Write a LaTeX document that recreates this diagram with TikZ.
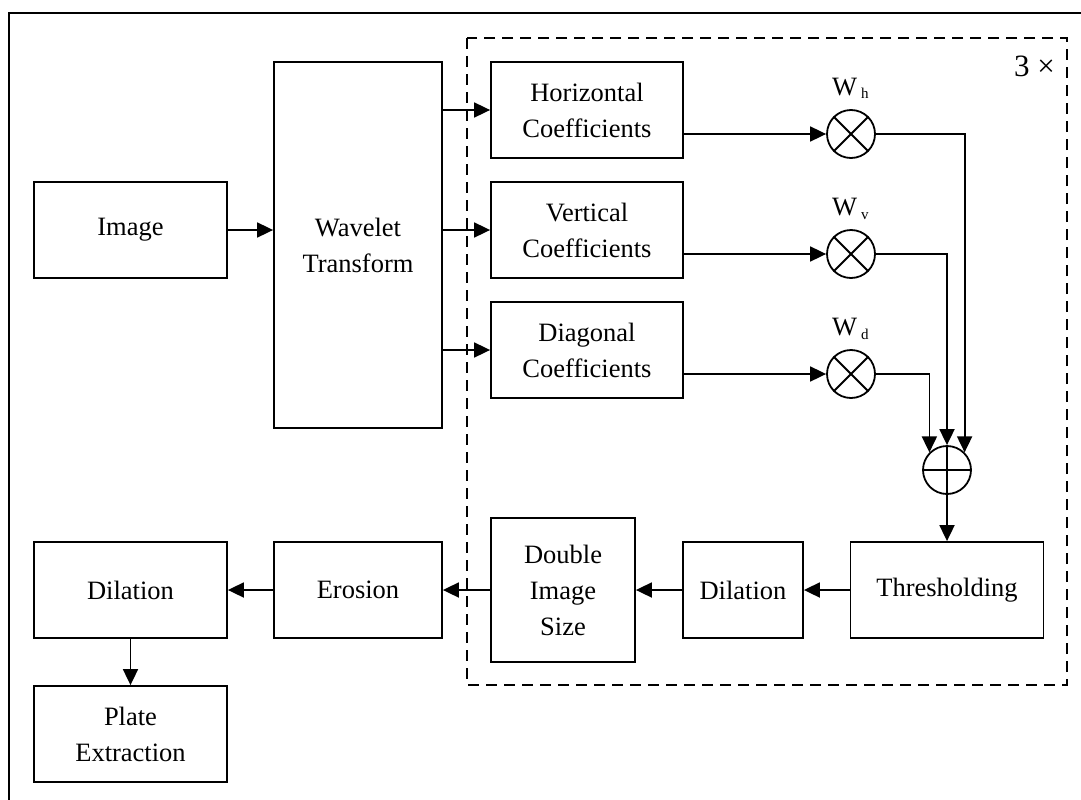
\documentclass[tikz,border=0pt]{standalone}
\usepackage{fontspec}
\setmainfont{Liberation Serif}
\usetikzlibrary{arrows.meta}
\begin{document}
\begin{tikzpicture}[x=1pt,y=-1pt,
  box/.style={draw, line width=1.8pt, inner sep=0pt, align=center, font=\fontsize{26.5}{36}\selectfont},
  arr/.style={line width=1.8pt, -{Triangle[length=16pt,width=15pt]}},
  ln/.style={line width=1.8pt},
  mul/.style={draw, circle, line width=1.8pt, minimum size=48pt, inner sep=0pt},
  lbl/.style={anchor=base west, inner sep=0pt, font=\fontsize{26.5}{30}\selectfont},
  sub/.style={anchor=base west, inner sep=0pt, font=\fontsize{15}{18}\selectfont},
]
\clip (0,0) rectangle (1081,800);
\draw[line width=2.4pt] (9,13) rectangle (1100,820);
\draw[line width=2.4pt, dash pattern=on 11pt off 7pt] (467,38) rectangle (1067,685);
\node[lbl, anchor=base east, font=\fontsize{31}{34}\selectfont] (rep) at (1055,77) {3 ×};

\node[box, minimum width=193pt, minimum height=96pt] (img) at (130.5,230) {Image};
\node[box, minimum width=168pt, minimum height=366pt] (wt) at (358,245) {Wavelet\\Transform};
\node[box, minimum width=192pt, minimum height=96pt] (hc) at (587,110) {Horizontal\\Coefficients};
\node[box, minimum width=192pt, minimum height=96pt] (vc) at (587,230) {Vertical\\Coefficients};
\node[box, minimum width=192pt, minimum height=96pt] (dc) at (587,350) {Diagonal\\Coefficients};

\node[mul] (wh) at (851,134) {};
\node[mul] (wv) at (851,254) {};
\node[mul] (wd) at (851,374) {};
\node[mul] (sum) at (947,470) {};
\foreach \c in {wh,wv,wd}{
  \draw[ln] (\c.north west) -- (\c.south east);
  \draw[ln] (\c.north east) -- (\c.south west);
}
\draw[ln] (sum.north) -- (sum.south);
\draw[ln] (sum.west) -- (sum.east);

\node[lbl] (lwh) at (832,95) {W};
\node[sub] (swh) at (861,99) {h};
\node[lbl] (lwv) at (832,215) {W};
\node[sub] (swv) at (861,219) {v};
\node[lbl] (lwd) at (832,335) {W};
\node[sub] (swd) at (861,339) {d};

\node[box, minimum width=193pt, minimum height=96pt] (th) at (947,590) {Thresholding};
\node[box, minimum width=120pt, minimum height=96pt] (di) at (743,590) {Dilation};
\node[box, minimum width=144pt, minimum height=144pt] (ds) at (563,590) {Double\\Image\\Size};
\node[box, minimum width=168pt, minimum height=96pt] (er) at (358,590) {Erosion};
\node[box, minimum width=193pt, minimum height=96pt] (do) at (130.5,590) {Dilation};
\node[box, minimum width=193pt, minimum height=96pt] (pe) at (130.5,734) {Plate\\Extraction};

\draw[arr] (img.east) -- (img.east -| wt.west);
\draw[arr] (wt.east |- hc.west) -- (hc.west);
\draw[arr] (wt.east |- vc.west) -- (vc.west);
\draw[arr] (wt.east |- dc.west) -- (dc.west);
\draw[arr] (hc.east |- wh.west) -- (wh.west);
\draw[arr] (vc.east |- wv.west) -- (wv.west);
\draw[arr] (dc.east |- wd.west) -- (wd.west);
\draw[arr] (wh.east) -| (sum.45);
\draw[arr] (wv.east) -| (sum.north);
\draw[arr] (wd.east) -| (sum.135);
\draw[arr] (sum.south) -- (th.north);
\draw[arr] (th.west) -- (di.east);
\draw[arr] (di.west) -- (ds.east);
\draw[arr] (ds.west) -- (er.east);
\draw[arr] (er.west) -- (do.east);
\draw[arr] (do.south) -- (pe.north);
\end{tikzpicture}
\end{document}
